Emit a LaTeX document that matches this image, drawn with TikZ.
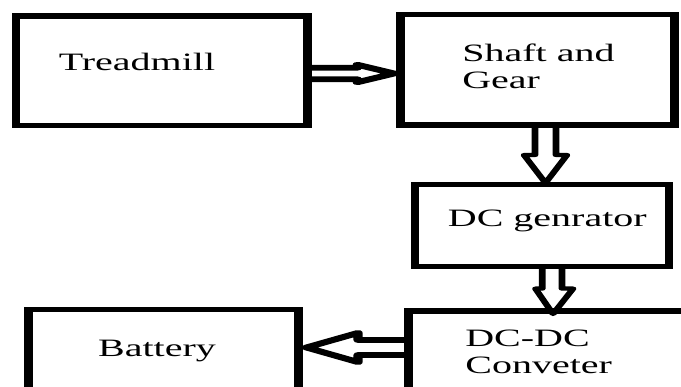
\documentclass[tikz,border=0pt]{standalone}
\usepackage{fontspec}
\setmainfont{Liberation Serif}
\usetikzlibrary{fit,calc}
\begin{document}
\begin{tikzpicture}[x=1pt,y=-1pt,
  box/.style={draw, line width=5.5pt, inner sep=0pt, outer sep=0pt},
  harrow/.style={draw, line width=5.8pt, line join=round},
  varrow/.style={draw, line width=4.2pt, line join=round},
  lbl/.style={anchor=base west, inner sep=0pt, font=\fontsize{25}{27}\selectfont}]
\useasboundingbox (0,0) rectangle (681,387);
\clip (0,0) rectangle (681,387);
\begin{scope}[x=0.625pt, transform canvas={xscale=1.6}]
  % boxes
  \node[box, fit={(16,16) (307.5,125.5)}] (tread) {};
  \node[box, fit={(400.5,14.5) (674.5,125)}] (shaft) {};
  \node[box, fit={(415,184.5) (669,266.5)}] (dcgen) {};
  \node[box, fit={(408.5,311) (720,430)}] (dcdc) {};
  \node[box, fit={(28.5,309.5) (298.5,430)}] (battery) {};
  % texts
  \node[lbl] (treadtxt) at (58.5,71) {Treadmill};
  \node[lbl] (shafttxt) at (462,61.7) {\begin{tabular}[t]{@{}l@{}}Shaft and\\Gear\end{tabular}};
  \node[lbl] (dcgentxt) at (447.6,226.7) {DC genrator};
  \node[lbl] (dcdctxt) at (465,346.7) {\begin{tabular}[t]{@{}l@{}}DC-DC\\Conveter\end{tabular}};
  \node[lbl] (batterytxt) at (97.8,356.7) {Battery};
  % hollow arrows
  \draw[harrow] (tread.east |- 0,67.75) -- (357.4,67.75) -- (357.4,64.75)
    -- ($(shaft.west |- 0,73.5)+(-6.5,0)$) -- (357.4,82.25) -- (357.4,79.25)
    -- (tread.east |- 0,79.25);
  \draw[varrow] (shaft.south -| 535,0) -- (535,155) -- (524,155)
    -- ($(dcgen.north -| 545.5,0)+(0,-1.5)$) -- (567,155) -- (556,155)
    -- (shaft.south -| 556,0);
  \draw[varrow] (dcgen.south -| 542.3,0) -- (542.3,288.6) -- (535.4,288.6)
    -- ($(dcdc.north -| 553,0)+(0,3)$) -- (573.1,288.6) -- (562,288.6)
    -- (dcgen.south -| 562,0);
  \draw[harrow] (dcdc.west |- 0,340) -- (358,340) -- (358,332.9)
    -- ($(battery.east |- 0,347.5)+(8,0)$) -- (358,362.1) -- (358,355)
    -- (dcdc.west |- 0,355);
\end{scope}
\end{tikzpicture}
\end{document}
